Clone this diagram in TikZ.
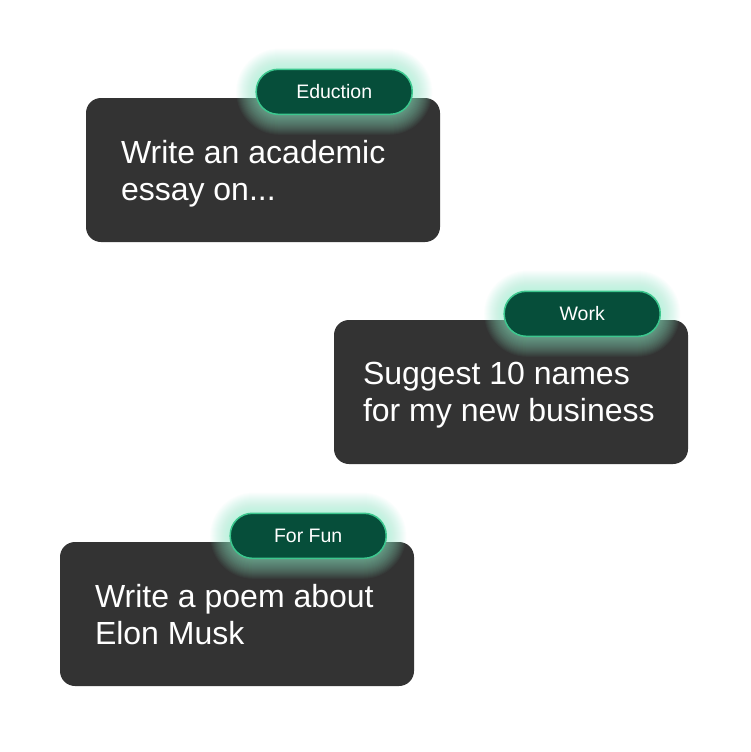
\documentclass[tikz,border=0pt]{standalone}
\usepackage{fontspec}
\setmainfont{Liberation Sans}
\usepackage{tikz}
\usetikzlibrary{calc}
\usetikzlibrary{positioning}
\definecolor{cardgray}{RGB}{51, 51, 51}
\definecolor{tagfill}{RGB}{6, 78, 58}
\definecolor{tagline}{RGB}{60, 199, 142}
\definecolor{glowgreen}{RGB}{150, 242, 205}
% soft glow round a tag centre
\newcommand{\tagglow}[1]{%
    \foreach \g in {1,...,20}{%
        \pgfmathsetmacro{\gx}{78+\g}%
        \pgfmathsetmacro{\gy}{23+\g}%
        \fill[glowgreen, opacity=0.04, rounded corners=\gy pt]
            ([shift={(-\gx pt,\gy pt)}]#1) rectangle ([shift={(\gx pt,-\gy pt)}]#1);
    }}

\begin{document}
\begin{tikzpicture}[x=1pt, y=-1pt,
    card/.style={fill=cardgray, rounded corners=15pt, minimum width=354pt, minimum height=144pt, inner sep=0pt},
    prompt/.style={text=white, align=left, inner sep=0pt, anchor=north west, font=\fontsize{32}{37.5}\selectfont},
    tag/.style={fill=tagfill, draw=tagline, line width=1.5pt, rounded corners=22pt, minimum width=156pt, minimum height=45pt,
                inner sep=0pt, text=white, font=\fontsize{19.5}{23}\selectfont}]
            % Frame
            \fill[white] (0, 0) rectangle (750, 752);
            % Education
            \node[card] (card1) at (263, 170) {};
            \node[prompt] (text1) at ([xshift=35pt, yshift=-42pt]card1.north west) {Write an academic\\essay on...};
            \coordinate (tag1pos) at ([xshift=-106pt, yshift=6pt]card1.north east);
            \tagglow{tag1pos}
            \node[tag] (tag1) at (tag1pos) {Eduction};
            % Work
            \node[card] (card2) at (511, 392) {};
            \node[prompt] (text2) at ([xshift=29pt, yshift=-42pt]card2.north west) {Suggest 10 names\\for my new business};
            \coordinate (tag2pos) at ([xshift=-106pt, yshift=6pt]card2.north east);
            \tagglow{tag2pos}
            \node[tag] (tag2) at (tag2pos) {Work};
            % For Fun
            \node[card] (card3) at (237, 614) {};
            \node[prompt] (text3) at ([xshift=35pt, yshift=-42pt]card3.north west) {Write a poem about\\Elon Musk};
            \coordinate (tag3pos) at ([xshift=-106pt, yshift=6pt]card3.north east);
            \tagglow{tag3pos}
            \node[tag] (tag3) at (tag3pos) {For Fun};
\end{tikzpicture}
\end{document}
